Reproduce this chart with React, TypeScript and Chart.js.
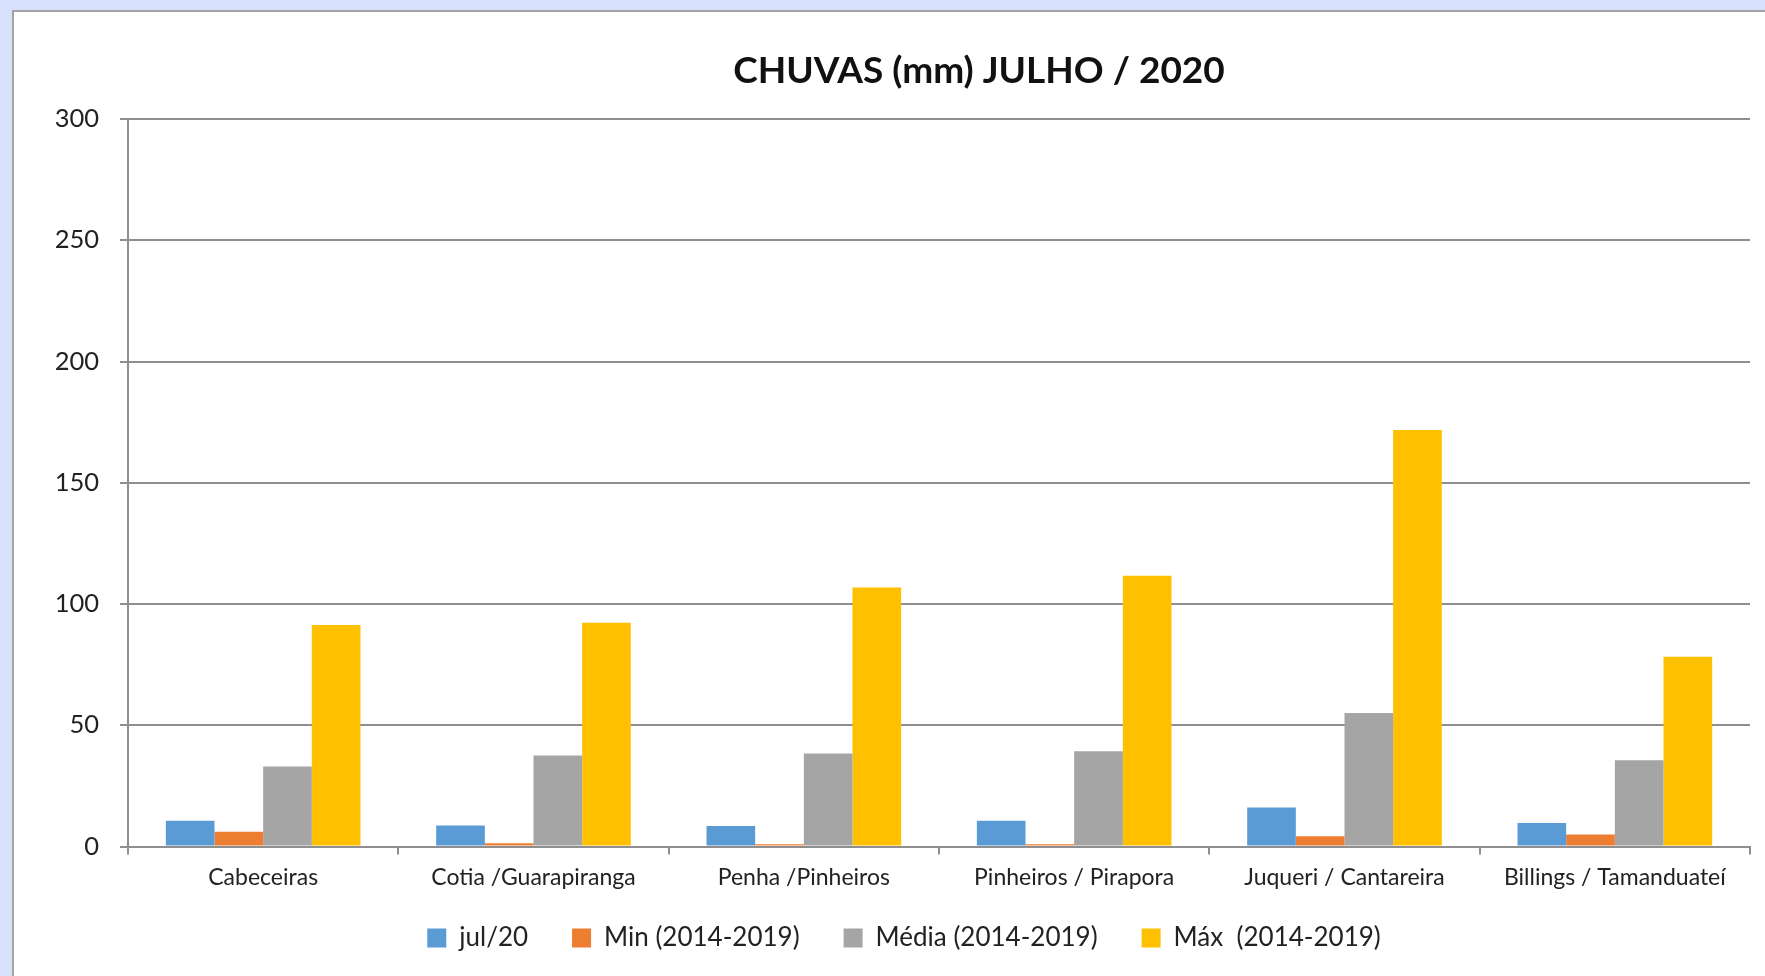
import React, { useEffect, useRef } from "react";
import { Chart, registerables } from "chart.js";

Chart.register(...registerables);

const chartTitle = "CHUVAS (mm) JULHO / 2020";
const categories = [
  "Cabeceiras",
  "Cotia /Guarapiranga",
  "Penha /Pinheiros",
  "Pinheiros / Pirapora",
  "Juqueri / Cantareira",
  "Billings / Tamanduateí",
];
const seriesLabels = ["jul/20", "Min (2014-2019)", "Média (2014-2019)", "Máx  (2014-2019)"];
const jul20 = [10.6, 8.7, 8.5, 10.6, 16.1, 9.7];
const minValues = [6.1, 1.3, 0.9, 0.9, 4.2, 5.0];
const mediaValues = [33.0, 37.5, 38.3, 39.3, 55.1, 35.6];
const maxValues = [91.3, 92.3, 106.8, 111.6, 171.8, 78.2];
const seriesColors = ["#5B9BD5", "#ED7D31", "#A5A5A5", "#FFC000"];
const yTicks = [0, 50, 100, 150, 200, 250, 300];

const FONT = "Lato, 'Open Sans', 'DejaVu Sans', sans-serif";
const CANVAS_W = 1930;
const CANVAS_H = 1000;
const TITLE_SHIFT = 97;
const LEGEND_SHIFT_X = 22;
const LEGEND_SHIFT_Y = -25.5;

const shiftPlugin = {
  id: "shiftBoxes",
  afterLayout(chart: any) {
    const t = chart.titleBlock;
    if (t) {
      t.left += TITLE_SHIFT;
      t.right += TITLE_SHIFT;
    }
    const l = chart.legend;
    if (l) {
      l.left += LEGEND_SHIFT_X;
      l.right += LEGEND_SHIFT_X;
      l.top += LEGEND_SHIFT_Y;
      l.bottom += LEGEND_SHIFT_Y;
    }
  },
};

export default function App() {
  const ref = useRef<HTMLCanvasElement | null>(null);

  useEffect(() => {
    if (!ref.current) return;
    const values = [jul20, minValues, mediaValues, maxValues];
    const chart = new Chart(ref.current, {
      type: "bar",
      data: {
        labels: categories,
        datasets: seriesLabels.map((label, i) => ({
          label,
          data: values[i],
          backgroundColor: seriesColors[i],
          borderWidth: 0,
          categoryPercentage: 0.72,
          barPercentage: 1.0,
        })),
      },
      plugins: [shiftPlugin],
      options: {
        responsive: false,
        animation: false,
        devicePixelRatio: 1,
        layout: { padding: { left: 0, right: 194, top: 0, bottom: 25.5 } },
        plugins: {
          title: {
            display: true,
            text: chartTitle,
            color: "#111111",
            font: { family: FONT, size: 37, weight: "bold", lineHeight: 1.2 },
            padding: { top: 37, bottom: 25.6 },
          },
          legend: {
            display: true,
            position: "bottom",
            labels: {
              boxWidth: 19,
              boxHeight: 19,
              padding: 44,
              color: "#222222",
              font: { family: FONT, size: 26 },
            },
          },
          tooltip: { enabled: false },
        },
        scales: {
          x: {
            grid: {
              display: true,
              drawOnChartArea: false,
              drawTicks: true,
              tickLength: 8,
              color: "#8f8f8f",
              lineWidth: 2,
            },
            border: { display: true, color: "#8f8f8f", width: 2 },
            ticks: {
              color: "#222222",
              padding: 9,
              maxRotation: 0,
              autoSkip: false,
              font: { family: FONT, size: 23 },
            },
            afterFit: (scale: any) => {
              scale.height = 60;
            },
          },
          y: {
            min: 0,
            max: 300,
            afterBuildTicks: (scale: any) => {
              scale.ticks = yTicks.map((v) => ({ value: v }));
            },
            grid: {
              color: "#8f8f8f",
              lineWidth: 2,
              drawTicks: true,
              tickLength: 8,
            },
            border: { display: true, color: "#8f8f8f", width: 2 },
            ticks: {
              color: "#222222",
              padding: 21,
              font: { family: FONT, size: 25.5 },
            },
            afterFit: (scale: any) => {
              scale.width = 114;
            },
          },
        },
      },
    });
    return () => chart.destroy();
  }, []);

  return (
    <div
      style={{
        position: "fixed",
        left: 0,
        top: 0,
        width: 1765,
        height: 976,
        overflow: "hidden",
        background: "#d7e1fb",
      }}
    >
      <div
        style={{
          position: "absolute",
          left: 12,
          top: 10,
          width: 1960,
          height: 1040,
          background: "#ffffff",
          border: "2px solid #a3a3a3",
          boxSizing: "border-box",
        }}
      >
        <canvas
          ref={ref}
          width={CANVAS_W}
          height={CANVAS_H}
          style={{ position: "absolute", left: 0, top: 0, width: CANVAS_W, height: CANVAS_H }}
        />
      </div>
    </div>
  );
}
